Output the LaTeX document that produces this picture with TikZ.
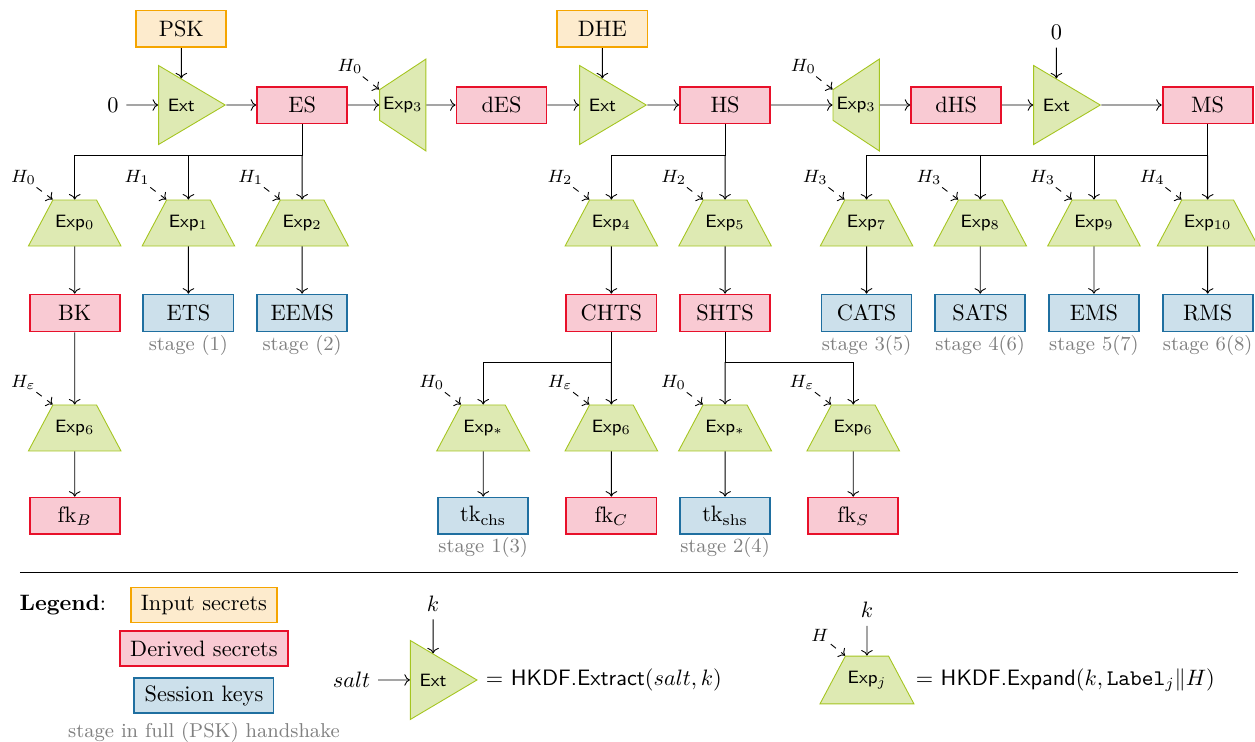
\documentclass[tikz,border=0pt]{standalone}
\usepackage{amsmath}
\usepackage{amssymb}
\usetikzlibrary{arrows, arrows.meta, shapes, positioning}

\definecolor{inpfill}{RGB}{253,235,205}
\definecolor{inpdraw}{RGB}{245,165,0}
\definecolor{derfill}{RGB}{249,202,211}
\definecolor{derdraw}{RGB}{232,16,42}
\definecolor{sesfill}{RGB}{204,224,235}
\definecolor{sesdraw}{RGB}{31,111,160}
\definecolor{kdffill}{RGB}{222,234,179}
\definecolor{kdfdraw}{RGB}{165,197,32}

\begin{document}
\begin{tikzpicture}[
        secretbox/.style={rectangle, thick, minimum width=1.42cm, minimum height=0.58cm},
        inbox/.style={secretbox, draw=inpdraw, fill=inpfill},
        derbox/.style={secretbox, draw=derdraw, fill=derfill},
        sesbox/.style={secretbox, draw=sesdraw, fill=sesfill},
        legbox/.style={minimum height=0.55cm, inner xsep=4.6pt},
        extbox/.style={isosceles triangle, isosceles triangle stretches, draw=kdfdraw, fill=kdffill,
            minimum width=1.245cm, minimum height=1.05cm, inner sep=1pt, font=\footnotesize\sffamily},
        expbox/.style={trapezium, trapezium left angle=62, trapezium right angle=62, trapezium stretches,
            draw=kdfdraw, fill=kdffill, minimum width=1.45cm, minimum height=0.725cm,
            inner xsep=1pt, inner ysep=6.77pt, font=\footnotesize\sffamily},
        exprot/.style={expbox, shape border rotate=90, minimum height=0.7cm, inner xsep=1.6pt, inner ysep=2pt},
        hkey/.style={font=\footnotesize, inner sep=1pt},
        hin/.style={->, dashed},
        stagelab/.style={font=\small, text=gray, inner sep=1pt},
    ]
        \useasboundingbox (0,0) rectangle (19.78,-11.69);

        % top row: extract / expand chain
        \node (zero1) at (1.78,-1.655) {$0$};
        \node[extbox, right=0.5cm of zero1] (ext1) {Ext};
        \node[derbox, right=0.47cm of ext1] (es) {ES};
        \node[exprot, right=0.49cm of es] (exp3a) {Exp$_3$};
        \node[derbox, right=0.46cm of exp3a] (des) {dES};
        \node[extbox, right=0.5cm of des] (ext2) {Ext};
        \node[derbox, right=0.5cm of ext2] (hs) {HS};
        \node[exprot, right=0.97cm of hs] (exp3b) {Exp$_3$};
        \node[derbox, right=0.48cm of exp3b] (dhs) {dHS};
        \node[extbox, right=0.49cm of dhs] (ext3) {Ext};
        \node[derbox, right=0.95cm of ext3] (ms) {MS};
        \node[inbox, on grid, above=1.2cm of ext1] (psk) {PSK};
        \node[inbox, on grid, above=1.2cm of ext2] (dhe) {DHE};
        \node[on grid, above=1.14cm of ext3] (zero2) {$0$};

        \draw[->] (zero1) -- (ext1);
        \draw[->] (psk) -- (ext1);
        \draw[->] (ext1) -- (es);
        \draw[->] (es) -- (exp3a);
        \draw[->] (exp3a) -- (des);
        \draw[->] (des) -- (ext2);
        \draw[->] (dhe) -- (ext2);
        \draw[->] (ext2) -- (hs);
        \draw[->] (hs) -- (exp3b);
        \draw[->] (exp3b) -- (dhs);
        \draw[->] (dhs) -- (ext3);
        \draw[->] (zero2) -- (ext3);
        \draw[->] (ext3) -- (ms);

        % second row: expand steps
        \node[expbox, on grid, below=1.86cm of es] (exp2) {Exp$_2$};
        \node[expbox, on grid, left=1.792cm of exp2] (exp1) {Exp$_1$};
        \node[expbox, on grid, left=1.792cm of exp1] (exp0) {Exp$_0$};
        \node[expbox, on grid, below=1.86cm of hs] (exp5) {Exp$_5$};
        \node[expbox, on grid, left=1.792cm of exp5] (exp4) {Exp$_4$};
        \node[expbox, on grid, below=1.86cm of ms] (exp10) {Exp$_{10}$};
        \node[expbox, on grid, left=1.792cm of exp10] (exp9) {Exp$_9$};
        \node[expbox, on grid, left=1.792cm of exp9] (exp8) {Exp$_8$};
        \node[expbox, on grid, left=1.792cm of exp8] (exp7) {Exp$_7$};

        \coordinate[below=0.49cm of es.south] (esfork);
        \coordinate[below=0.49cm of hs.south] (hsfork);
        \coordinate[below=0.49cm of ms.south] (msfork);
        \draw[->] (es) -- (esfork) -| (exp0);
        \draw[->] (esfork) -| (exp1);
        \draw[->] (esfork) -- (exp2);
        \draw[->] (hs) -- (hsfork) -| (exp4);
        \draw[->] (hsfork) -- (exp5);
        \draw[->] (ms) -- (msfork) -| (exp7);
        \draw[->] (msfork) -| (exp8);
        \draw[->] (msfork) -| (exp9);
        \draw[->] (msfork) -- (exp10);

        % third row: secrets and keys
        \node[derbox, on grid, below=1.418cm of exp0] (bk) {BK};
        \node[sesbox, on grid, below=1.418cm of exp1, label={[stagelab]below:stage (1)}] (ets) {ETS};
        \node[sesbox, on grid, below=1.418cm of exp2, label={[stagelab]below:stage (2)}] (eems) {EEMS};
        \node[derbox, on grid, below=1.418cm of exp4] (chts) {CHTS};
        \node[derbox, on grid, below=1.418cm of exp5] (shts) {SHTS};
        \node[sesbox, on grid, below=1.418cm of exp7, label={[stagelab]below:stage 3(5)}] (cats) {CATS};
        \node[sesbox, on grid, below=1.418cm of exp8, label={[stagelab]below:stage 4(6)}] (sats) {SATS};
        \node[sesbox, on grid, below=1.418cm of exp9, label={[stagelab]below:stage 5(7)}] (ems) {EMS};
        \node[sesbox, on grid, below=1.418cm of exp10, label={[stagelab]below:stage 6(8)}] (rms) {RMS};

        \draw[->] (exp0) -- (bk);
        \draw[->] (exp1) -- (ets);
        \draw[->] (exp2) -- (eems);
        \draw[->] (exp4) -- (chts);
        \draw[->] (exp5) -- (shts);
        \draw[->] (exp7) -- (cats);
        \draw[->] (exp8) -- (sats);
        \draw[->] (exp9) -- (ems);
        \draw[->] (exp10) -- (rms);

        % fourth row: finished and traffic keys
        \node[expbox, on grid, below=1.812cm of bk] (expfb) {Exp$_6$};
        \node[expbox, on grid, below=1.812cm of chts] (expfc) {Exp$_6$};
        \node[expbox, on grid, left=2.02cm of expfc] (exptc) {Exp$_*$};
        \node[expbox, on grid, below=1.812cm of shts] (expts) {Exp$_*$};
        \node[expbox, on grid, right=2.02cm of expts] (expfs) {Exp$_6$};

        \coordinate[below=0.47cm of chts.south] (chfork);
        \coordinate[below=0.47cm of shts.south] (shfork);
        \draw[->] (bk) -- (expfb);
        \draw[->] (chts) -- (chfork) -| (exptc);
        \draw[->] (chfork) -- (expfc);
        \draw[->] (shts) -- (shfork) -| (expfs);
        \draw[->] (shfork) -- (expts);

        \node[derbox, on grid, below=1.387cm of expfb] (fkb) {fk$_B$};
        \node[sesbox, on grid, below=1.387cm of exptc, label={[stagelab]below:stage 1(3)}] (tkc) {tk$_{\text{chs}}$};
        \node[derbox, on grid, below=1.387cm of expfc] (fkc) {fk$_C$};
        \node[sesbox, on grid, below=1.387cm of expts, label={[stagelab]below:stage 2(4)}] (tks) {tk$_{\text{shs}}$};
        \node[derbox, on grid, below=1.387cm of expfs] (fks) {fk$_S$};

        \draw[->] (expfb) -- (fkb);
        \draw[->] (exptc) -- (tkc);
        \draw[->] (expfc) -- (fkc);
        \draw[->] (expts) -- (tks);
        \draw[->] (expfs) -- (fks);

        % hash inputs
        \node[hkey] (h3a) at ([shift={(-0.46,0.36)}]exp3a.top right corner) {$H_0$};
        \node[hkey] (h3b) at ([shift={(-0.46,0.36)}]exp3b.top right corner) {$H_0$};
        \node[hkey] (h0) at ([shift={(-0.46,0.35)}]exp0.top left corner) {$H_0$};
        \node[hkey] (h1) at ([shift={(-0.46,0.35)}]exp1.top left corner) {$H_1$};
        \node[hkey] (h2) at ([shift={(-0.46,0.35)}]exp2.top left corner) {$H_1$};
        \node[hkey] (h4) at ([shift={(-0.46,0.35)}]exp4.top left corner) {$H_2$};
        \node[hkey] (h5) at ([shift={(-0.46,0.35)}]exp5.top left corner) {$H_2$};
        \node[hkey] (h7) at ([shift={(-0.46,0.35)}]exp7.top left corner) {$H_3$};
        \node[hkey] (h8) at ([shift={(-0.46,0.35)}]exp8.top left corner) {$H_3$};
        \node[hkey] (h9) at ([shift={(-0.46,0.35)}]exp9.top left corner) {$H_3$};
        \node[hkey] (h10) at ([shift={(-0.46,0.35)}]exp10.top left corner) {$H_4$};
        \node[hkey] (hfb) at ([shift={(-0.46,0.35)}]expfb.top left corner) {$H_\varepsilon$};
        \node[hkey] (htc) at ([shift={(-0.46,0.35)}]exptc.top left corner) {$H_0$};
        \node[hkey] (hfc) at ([shift={(-0.46,0.35)}]expfc.top left corner) {$H_\varepsilon$};
        \node[hkey] (hts) at ([shift={(-0.46,0.35)}]expts.top left corner) {$H_0$};
        \node[hkey] (hfs) at ([shift={(-0.46,0.35)}]expfs.top left corner) {$H_\varepsilon$};

        \draw[hin] (h3a) -- (exp3a.top right corner);
        \draw[hin] (h3b) -- (exp3b.top right corner);
        \draw[hin] (h0) -- (exp0.top left corner);
        \draw[hin] (h1) -- (exp1.top left corner);
        \draw[hin] (h2) -- (exp2.top left corner);
        \draw[hin] (h4) -- (exp4.top left corner);
        \draw[hin] (h5) -- (exp5.top left corner);
        \draw[hin] (h7) -- (exp7.top left corner);
        \draw[hin] (h8) -- (exp8.top left corner);
        \draw[hin] (h9) -- (exp9.top left corner);
        \draw[hin] (h10) -- (exp10.top left corner);
        \draw[hin] (hfb) -- (expfb.top left corner);
        \draw[hin] (htc) -- (exptc.top left corner);
        \draw[hin] (hfc) -- (expfc.top left corner);
        \draw[hin] (hts) -- (expts.top left corner);
        \draw[hin] (hfs) -- (expfs.top left corner);

        % legend
        \coordinate (sepl) at (0.315,-9.03);
        \coordinate (sepr) at (19.51,-9.03);
        \draw (sepl) -- (sepr);
        \node (legend) at (0.99,-9.535) {\textbf{Legend}:};
        \node[inbox, legbox, right=0.25cm of legend] (leginp) {Input secrets};
        \node[derbox, legbox, on grid, below=0.69cm of leginp] (legder) {Derived secrets};
        \node[sesbox, legbox, on grid, below=0.74cm of legder] (legses) {Session keys};
        \node[stagelab, on grid, below=0.58cm of legses] (legstage) {stage in full (PSK) handshake};

        \node[extbox, anchor=west] (extleg) at (6.46,-10.717) {Ext};
        \node[left=0.5cm of extleg] (salt) {$salt$};
        \node[on grid, above=1.2cm of extleg] (kext) {$k$};
        \node[right=0pt of extleg] (extdef) {$=$ \textsf{HKDF.Extract}$(salt, k)$};
        \draw[->] (salt) -- (extleg);
        \draw[->] (kext) -- (extleg);

        \node[expbox] (expleg) at (13.664,-10.717) {Exp$_j$};
        \node[on grid, above=1.1cm of expleg] (kexp) {$k$};
        \node[hkey] (hexp) at ([shift={(-0.4,0.32)}]expleg.top left corner) {$H$};
        \node[right=0.1cm of expleg] (expdef) {$=$ \textsf{HKDF.Expand}$(k, \texttt{Label}_j \| H)$};
        \draw[->] (kexp) -- (expleg);
        \draw[hin] (hexp) -- (expleg.top left corner);
\end{tikzpicture}
\end{document}
